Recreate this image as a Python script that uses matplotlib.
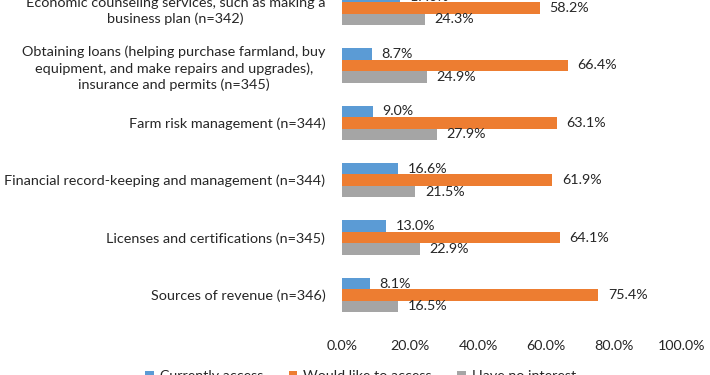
import matplotlib
matplotlib.use("Agg")
import matplotlib.pyplot as plt
import numpy as np

categories = [
    "Sources of revenue (n=346)",
    "Licenses and certifications (n=345)",
    "Financial record-keeping and management (n=344)",
    "Farm risk management (n=344)",
    "Obtaining loans (helping purchase farmland, buy\nequipment, and make repairs and upgrades),\ninsurance and permits (n=345)",
    "Economic counseling services, such as making a\nbusiness plan (n=342)",
]
currently = [8.1, 13.0, 16.6, 9.0, 8.7, 17.0]
would_like = [75.4, 64.1, 61.9, 63.1, 66.4, 58.2]
no_interest = [16.5, 22.9, 21.5, 27.9, 24.9, 24.3]
series_names = ["Currently access", "Would like to access", "Have no interest"]
colors = ["#5B9BD5", "#ED7D31", "#A5A5A5"]
xticks = [0, 20, 40, 60, 80, 100]

plt.rcParams["font.family"] = ["Lato", "DejaVu Sans"]
txt = "#262626"

fig = plt.figure(figsize=(7.1, 3.75), dpi=100)
ax = fig.add_axes([342 / 710, 1 - 323.7 / 375, 340 / 710, 344.4 / 375])

y = np.arange(len(categories))
h = 0.2
for vals, off, col, name in zip([currently, would_like, no_interest], [h, 0, -h], colors, series_names):
    bars = ax.barh(y + off, vals, height=h, color=col, label=name)
    for b, v in zip(bars, vals):
        ax.annotate(f"{v:.1f}%", (b.get_width(), b.get_y() + b.get_height() / 2),
                    xytext=(7, 0), textcoords="offset points", va="center", ha="left",
                    fontsize=10.3, color=txt)

ax.set_xlim(0, 100)
ax.set_ylim(-0.5, len(categories) - 0.5)
ax.set_xticks(xticks)
ax.set_xticklabels([f"{t:.1f}%" for t in xticks], fontsize=10.3, color=txt)
ax.set_yticks(y)
ax.set_yticklabels(categories, fontsize=10.4, color=txt, linespacing=1.35,
                   ha="right", multialignment="center")
ax.tick_params(axis="y", length=0, pad=12)
ax.tick_params(axis="x", length=0, pad=12)
for s in ax.spines.values():
    s.set_visible(False)

handles, labels = ax.get_legend_handles_labels()
fig.legend(handles, labels, loc="center", bbox_to_anchor=(0.508, -0.004), ncol=3,
           frameon=False, fontsize=10.3, handlelength=0.6, handleheight=0.6,
           handletextpad=0.4, columnspacing=1.8, labelcolor=txt)

fig.savefig("out.png", dpi=100)
